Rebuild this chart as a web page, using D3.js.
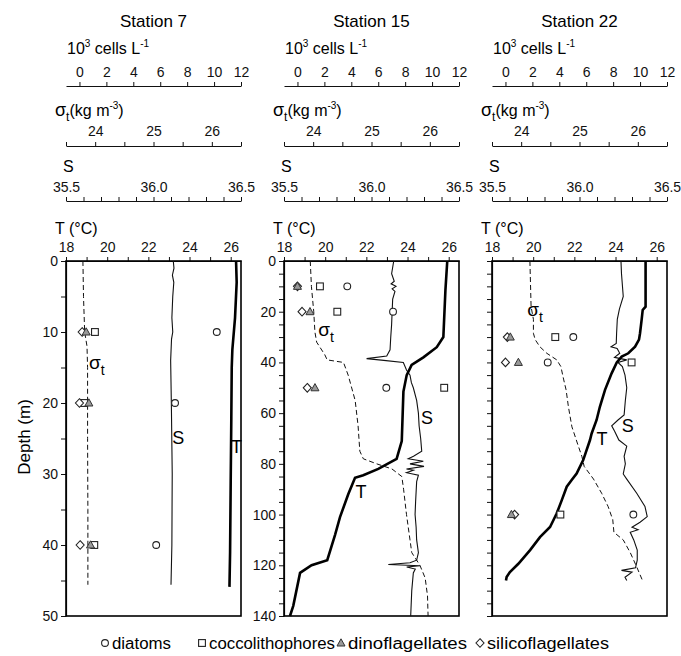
<!DOCTYPE html>
<html>
<head>
<meta charset="utf-8">
<script src="https://cdn.jsdelivr.net/npm/d3@7"></script>
<style>
  body { margin: 0; background: #fff; }
  svg { font-family: "Liberation Sans", Arial, sans-serif; }
</style>
</head>
<body>
<svg id="chart" width="681" height="656"></svg>
<script>
// ---- data ----
var stationNames = ["Station 7", "Station 15", "Station 22"];
var depthMax = [50, 140, 140];
var depthLabelStep = [10, 20, 0];   // 0 = no labels

var cellTicks = [0, 2, 4, 6, 8, 10, 12];
var sigmaTicks = [24, 25, 26];
var salTicks = [35.5, 36.0, 36.5];
var tempTicks = [18, 20, 22, 24, 26];

// station 7 profiles
var st7TDepth = [0, 3, 8, 12.5, 15, 22, 31, 41, 45.9];
var st7T      = [26.26, 26.29, 26.21, 26.08, 26.05, 26.03, 26.0, 25.97, 25.94];
var st7SDepth = [0, 1, 2, 3, 5, 8, 10, 11, 14, 20, 30, 40, 45.6];
var st7S      = [36.113, 36.117, 36.108, 36.116, 36.11, 36.105, 36.11, 36.103, 36.098, 36.102, 36.107, 36.105, 36.1];
var st7SigDepth = [0, 5, 10, 12, 15, 25, 35, 45.6];
var st7Sig      = [23.79, 23.80, 23.82, 23.86, 23.87, 23.87, 23.875, 23.875];

// station 15 profiles
var st15TDepth = [0, 11.6, 30, 34, 38, 41, 45, 51.5, 71, 78, 82, 84.5, 85.5, 92, 101, 108, 118, 120, 123, 136, 140];
var st15T      = [25.93, 25.84, 25.74, 25.42, 24.77, 24.2, 23.96, 23.8, 23.72, 23.47, 22.58, 21.85, 21.45, 21.12, 20.72, 20.48, 20.1, 19.34, 18.78, 18.45, 18.29];
var st15SDepth = [0, 5, 8, 9, 10, 11, 12, 15, 25, 30, 35, 37.5, 38.5, 39.2, 40, 43, 45, 48, 50, 55, 60, 65, 70, 75, 77, 78, 79, 80, 81, 82, 82.5, 83.5, 84.5, 87, 95, 100, 105, 110, 115, 118, 119, 119.7, 120.2, 120.7, 121.5, 123, 130, 140];
var st15S      = [36.127, 36.115, 36.13, 36.112, 36.14, 36.118, 36.134, 36.121, 36.115, 36.11, 36.106, 36.087, 35.972, 36.07, 36.182, 36.2, 36.22, 36.228, 36.239, 36.258, 36.268, 36.272, 36.281, 36.287, 36.24, 36.21, 36.296, 36.22, 36.3, 36.2, 36.24, 36.2, 36.268, 36.258, 36.252, 36.249, 36.255, 36.258, 36.268, 36.258, 36.22, 36.096, 36.277, 36.201, 36.25, 36.239, 36.23, 36.224];
var st15SigDepth = [0, 10, 20, 28, 32, 37, 39, 40, 45, 55, 65, 75, 78, 80, 82, 85, 90, 100, 110, 115, 120, 125, 132, 140];
var st15Sig      = [23.95, 23.97, 24.01, 24.03, 24.06, 24.2, 24.24, 24.52, 24.6, 24.72, 24.77, 24.8, 24.86, 25.09, 25.35, 25.52, 25.55, 25.6, 25.66, 25.69, 25.83, 25.92, 25.96, 25.97];

// station 22 profiles
var st22TDepth = [0, 18, 19.3, 23, 28.5, 31, 33.8, 36.4, 37.7, 40, 44.3, 50.8, 57.5, 62.7, 68, 70.6, 78.5, 83.8, 86.4, 89, 94.3, 99.6, 104.9, 108.9, 114, 119.4, 122.7, 124.6, 126];
var st22T      = [25.46, 25.46, 25.32, 25.27, 25.19, 25.14, 24.95, 24.62, 24.3, 24.06, 23.81, 23.49, 23.24, 23.08, 22.84, 22.76, 22.43, 22.11, 21.87, 21.63, 21.39, 21.14, 20.82, 20.33, 19.85, 19.28, 18.87, 18.71, 18.68];
var st22SDepth = [0, 5, 14, 19, 23, 28.5, 32.5, 33.8, 34.5, 36.4, 38, 39, 40, 41.6, 45, 50, 55, 60.7, 62.7, 65, 67, 70.6, 73, 77, 80, 84, 86, 91.6, 96.8, 100.8, 103, 105, 106, 107, 110, 114, 118, 121, 122, 122.7, 124.7, 126];
var st22S      = [36.237, 36.24, 36.25, 36.228, 36.216, 36.212, 36.21, 36.18, 36.215, 36.23, 36.2, 36.27, 36.22, 36.245, 36.26, 36.27, 36.262, 36.255, 36.22, 36.184, 36.2, 36.225, 36.27, 36.255, 36.262, 36.25, 36.27, 36.327, 36.374, 36.387, 36.346, 36.3, 36.335, 36.29, 36.31, 36.33, 36.33, 36.32, 36.24, 36.3, 36.26, 36.27];
var st22SigDepth = [0, 18, 23, 28.5, 31, 33.8, 36.4, 39, 41.6, 46.9, 50.8, 57.5, 65.4, 73, 77, 81, 86, 91.6, 96.8, 102, 107, 110, 115, 120.6, 126];
var st22Sig      = [24.15, 24.17, 24.21, 24.21, 24.24, 24.32, 24.44, 24.61, 24.68, 24.73, 24.77, 24.81, 24.87, 24.98, 25.04, 25.08, 25.24, 25.38, 25.49, 25.57, 25.59, 25.75, 25.87, 25.98, 26.08];

// cell counts (10^3 cells/L) at sampled depths
var st7SampleDepth = [10, 20, 40];
var st7Diatoms = [10.2, 7.1, 5.7];
var st7Cocco   = [1.15, 0.35, 1.1];
var st7Dino    = [0.5, 0.7, 0.82];
var st7Silico  = [0.2, 0.0, 0.05];

var st15SampleDepth = [10, 20, 50];
var st15Diatoms = [3.7, 7.1, 6.6];
var st15Cocco   = [1.67, 2.96, 10.9];
var st15Dino    = [0.0, 0.93, 1.3];
var st15Silico  = [0.0, 0.34, 0.73];

var st22SampleDepth = [30, 40, 100];
var st22Diatoms = [5.04, 3.14, 9.5];
var st22Cocco   = [3.7, 9.37, 4.08];
var st22Dino    = [0.36, 0.96, 0.44];
var st22Silico  = [0.14, 0.0, 0.68];

// label anchors, in T units and depth
var labelPos = [
  { sig: [19.5, 14.4], s: [23.45, 24.8], t: [26.28, 26] },
  { sig: [20.04, 27.2], s: [24.95, 61.5], t: [21.74, 90.7] },
  { sig: [20.09, 19.3], s: [24.6, 64.7], t: [23.34, 69.8] }
];

var legendNames = ["diatoms", "coccolithophores", "dinoflagellates", "silicoflagellates"];

// ---- layout ----
var panelLeft = [66, 284, 492];
var panelW = 175;
var plotTop = 261, plotBottom = 616;

var svg = d3.select("#chart");

function zip(a, b) {
  return a.map(function(d, i) { return [d, b[i]]; });
}

var panels = [
  { T: zip(st7TDepth, st7T), S: zip(st7SDepth, st7S), Sig: zip(st7SigDepth, st7Sig),
    depth: st7SampleDepth, dia: st7Diatoms, coc: st7Cocco, din: st7Dino, sil: st7Silico },
  { T: zip(st15TDepth, st15T), S: zip(st15SDepth, st15S), Sig: zip(st15SigDepth, st15Sig),
    depth: st15SampleDepth, dia: st15Diatoms, coc: st15Cocco, din: st15Dino, sil: st15Silico },
  { T: zip(st22TDepth, st22T), S: zip(st22SDepth, st22S), Sig: zip(st22SigDepth, st22Sig),
    depth: st22SampleDepth, dia: st22Diatoms, coc: st22Cocco, din: st22Dino, sil: st22Silico }
];

//
// marker drawing helper
//
function marker(g, kind, x, y) {
  if (kind == "circle") {
    g.append("circle").attr("cx", x).attr("cy", y).attr("r", 3.4)
      .attr("fill", "#fff").attr("stroke", "#222").attr("stroke-width", 1.1);
  } else if (kind == "square") {
    g.append("rect").attr("x", x - 3.4).attr("y", y - 3.4).attr("width", 6.8).attr("height", 6.8)
      .attr("fill", "#fff").attr("stroke", "#222").attr("stroke-width", 1.1);
  } else if (kind == "triangle") {
    g.append("path").attr("transform", "translate(" + x + "," + y + ")")
      .attr("d", "M0,-4.2L4,3L-4,3Z")
      .attr("fill", "#999").attr("stroke", "#333").attr("stroke-width", 1);
  } else {
    g.append("path").attr("transform", "translate(" + x + "," + y + ")")
      .attr("d", "M0,-4.3L4,0L0,4.3L-4,0Z")
      .attr("fill", "#fff").attr("stroke", "#222").attr("stroke-width", 1.1);
  }
}

function styleAxis(g) {
  g.select(".domain").attr("stroke", "#111").attr("stroke-width", 1.2);
  g.selectAll(".tick line").attr("stroke", "#111");
  g.selectAll(".tick text").attr("font-size", 14).attr("fill", "#111")
    .attr("font-family", "Liberation Sans, Arial, sans-serif");
}

panels.forEach(function(p, i) {
  var x0 = panelLeft[i], x1 = x0 + panelW;
  var g = svg.append("g");

  var xCells = d3.scaleLinear().domain([-1, 12]).range([x0, x1]);
  var xSig = d3.scaleLinear().domain([23.5, 26.5]).range([x0, x1]);
  var xSal = d3.scaleLinear().domain([35.5, 36.5]).range([x0, x1]);
  var xT = d3.scaleLinear().domain([18, 26.5]).range([x0, x1]);
  var y = d3.scaleLinear().domain([0, depthMax[i]]).range([plotTop, plotBottom]);

  // title
  g.append("text").attr("x", (x0 + x1) / 2).attr("y", 27).attr("text-anchor", "middle")
    .attr("font-size", 17).text(stationNames[i]);

  // cells axis
  var t1 = g.append("text").attr("x", x0 + 1).attr("y", 54).attr("font-size", 16);
  t1.append("tspan").text("10");
  t1.append("tspan").attr("font-size", 10).attr("dy", -7).text("3");
  t1.append("tspan").attr("dy", 7).text(" cells L");
  t1.append("tspan").attr("font-size", 10).attr("dy", -7).text("-1");
  g.append("g").attr("transform", "translate(0,86)")
    .call(d3.axisTop(xCells).tickValues(cellTicks).tickSize(4).tickSizeOuter(0).tickPadding(5))
    .call(styleAxis);

  // sigma-t axis
  var t2 = g.append("text").attr("x", x0 - 11).attr("y", 116).attr("font-size", 16);
  t2.append("tspan").attr("font-size", 18).text("σ");
  t2.append("tspan").attr("font-size", 12).attr("dy", 5).text("t");
  t2.append("tspan").attr("dy", -5).text("(kg m");
  t2.append("tspan").attr("font-size", 10).attr("dy", -7).text("-3");
  t2.append("tspan").attr("dy", 7).text(")");
  g.append("g").attr("transform", "translate(0,146)")
    .call(d3.axisTop(xSig).tickValues(d3.range(23.5, 26.51, 0.5)).tickSize(4).tickSizeOuter(0).tickPadding(6)
      .tickFormat(function(d) { return sigmaTicks.indexOf(d) >= 0 ? d : ""; }))
    .call(styleAxis);

  // salinity axis
  g.append("text").attr("x", x0 - 3).attr("y", 172).attr("font-size", 16).text("S");
  g.append("g").attr("transform", "translate(0,201)")
    .call(d3.axisTop(xSal).tickValues(d3.range(0, 11).map(function(k) { return 35.5 + k / 10; }))
      .tickSize(4).tickSizeOuter(0).tickPadding(5)
      .tickFormat(function(d) {
        var hit = salTicks.some(function(s) { return Math.abs(s - d) < 1e-6; });
        return hit ? d3.format(".1f")(d) : "";
      }))
    .call(styleAxis);

  // temperature axis (top of frame)
  g.append("text").attr("x", x0 - 11).attr("y", 234).attr("font-size", 16).text("T (°C)");
  g.append("g").attr("transform", "translate(0," + plotTop + ")")
    .call(d3.axisTop(xT).tickValues(d3.range(18, 27, 1)).tickSize(4).tickSizeOuter(0).tickPadding(5)
      .tickFormat(function(d) { return tempTicks.indexOf(d) >= 0 ? d : ""; }))
    .call(styleAxis);

  // depth axis
  var step = depthLabelStep[i];
  g.append("g").attr("transform", "translate(" + x0 + ",0)")
    .call(d3.axisLeft(y).tickValues(d3.range(0, depthMax[i] + 1, 5)).tickSize(5).tickSizeOuter(0).tickPadding(3)
      .tickFormat(function(d) { return (step && d % step == 0) ? d : ""; }))
    .call(styleAxis);

  // frame
  g.append("rect").attr("x", x0).attr("y", plotTop).attr("width", panelW).attr("height", plotBottom - plotTop)
    .attr("fill", "none").attr("stroke", "#000").attr("stroke-width", 1.6);

  // profiles
  g.append("path").datum(p.Sig)
    .attr("d", d3.line().x(function(d) { return xSig(d[1]); }).y(function(d) { return y(d[0]); }))
    .attr("fill", "none").attr("stroke", "#111").attr("stroke-width", 1).attr("stroke-dasharray", "5,3");
  g.append("path").datum(p.S)
    .attr("d", d3.line().x(function(d) { return xSal(d[1]); }).y(function(d) { return y(d[0]); }))
    .attr("fill", "none").attr("stroke", "#111").attr("stroke-width", 1.1);
  g.append("path").datum(p.T)
    .attr("d", d3.line().x(function(d) { return xT(d[1]); }).y(function(d) { return y(d[0]); }))
    .attr("fill", "none").attr("stroke", "#000").attr("stroke-width", 2.6);

  // curve labels
  var lp = labelPos[i];
  var ls = g.append("text").attr("x", xT(lp.sig[0])).attr("y", y(lp.sig[1]) + 6)
    .attr("text-anchor", "middle").attr("font-size", 19);
  ls.append("tspan").text("σ");
  ls.append("tspan").attr("font-size", 14).attr("dy", 6).text("t");
  g.append("text").attr("x", xT(lp.s[0])).attr("y", y(lp.s[1]) + 7)
    .attr("text-anchor", "middle").attr("font-size", 18).text("S");
  g.append("text").attr("x", xT(lp.t[0])).attr("y", y(lp.t[1]) + 7)
    .attr("text-anchor", "middle").attr("font-size", 18).text("T");

  // sample markers
  p.depth.forEach(function(dep, k) {
    marker(g, "circle", xCells(p.dia[k]), y(dep));
    marker(g, "square", xCells(p.coc[k]), y(dep));
    marker(g, "diamond", xCells(p.sil[k]), y(dep));
    marker(g, "triangle", xCells(p.din[k]), y(dep));
  });
});

// depth title
svg.append("text").attr("transform", "translate(30,437) rotate(-90)")
  .attr("text-anchor", "middle").attr("font-size", 17).text("Depth (m)");

// legend
var legKinds = ["circle", "square", "triangle", "diamond"];
var legX = [105, 202, 341, 480];
var lg = svg.append("g");
legendNames.forEach(function(name, k) {
  marker(lg, legKinds[k], legX[k], 643);
  lg.append("text").attr("x", legX[k] + 7).attr("y", 649).attr("font-size", 16)
    .attr("textLength", [59, 126, 119, 122][k]).attr("lengthAdjust", "spacingAndGlyphs").text(name);
});
</script>
</body>
</html>
